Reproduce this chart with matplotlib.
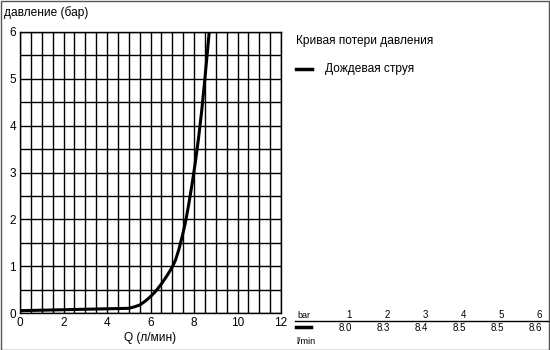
import matplotlib.pyplot as plt
from matplotlib.patches import Rectangle
import numpy as np

# curve
flow = [0, 1, 2, 3, 4, 5, 5.25, 5.5, 5.75, 6, 6.25, 6.5, 6.75, 7, 7.15, 7.3, 7.45, 7.6,
        7.75, 7.9, 8.05, 8.2, 8.35, 8.5, 8.6, 8.7]
pres = [0.05, 0.06, 0.07, 0.08, 0.09, 0.1, 0.13, 0.17, 0.25, 0.35, 0.47, 0.62, 0.79, 0.98,
        1.13, 1.35, 1.62, 1.92, 2.3, 2.72, 3.18, 3.7, 4.3, 5.0, 5.5, 6.0]

tab_bar = ['1', '2', '3', '4', '5', '6']
tab_flow = ['8.0', '8.3', '8.4', '8.5', '8.5', '8.6']

plt.rcParams['font.family'] = ['Liberation Sans', 'DejaVu Sans']

W, H = 550, 350
fig = plt.figure(figsize=(5.5, 3.5), dpi=100)
fig.patch.set_facecolor('white')

ax = fig.add_axes([20 / W, 1 - 313 / H, 261 / W, 281 / H])
ax.set_xlim(0, 12)
ax.set_ylim(0, 6)
ax.set_xticks(np.arange(0, 13, 2))
ax.set_yticks(np.arange(0, 7, 1))
ax.set_xticks(np.arange(0, 12.01, 0.5), minor=True)
ax.set_yticks(np.arange(0, 6.01, 0.5), minor=True)
ax.grid(True, which='both', color='black', linewidth=1.0)
ax.tick_params(which='both', length=0, labelsize=8.5, pad=3)
for s in ax.spines.values():
    s.set_color('black')
    s.set_linewidth(1.0)

ax.plot(flow, pres, color='black', linewidth=2.2, solid_joinstyle='round', zorder=5)

ax.set_xlabel('Q (л/мин)', fontsize=8.6, labelpad=2)
fig.text(4 / W, 1 - 13 / H, 'давление (бар)', fontsize=8.6, va='center', ha='left')

# legend area
fig.text(296 / W, 1 - 41 / H, 'Кривая потери давления', fontsize=8.6, va='center', ha='left')
fig.add_artist(plt.Line2D([296 / W, 312 / W], [1 - 69 / H, 1 - 69 / H], color='black', linewidth=2.5))
fig.text(325 / W, 1 - 69 / H, 'Дождевая струя', fontsize=8.6, va='center', ha='left')

# small table
fig.text(297 / W, 1 - 315 / H, 'bar', fontsize=6.5, va='center', ha='left')
fig.add_artist(plt.Line2D([295 / W, 548 / W], [1 - 321 / H, 1 - 321 / H], color='black', linewidth=1.0))
fig.add_artist(plt.Line2D([296 / W, 311 / W], [1 - 327 / H, 1 - 327 / H], color='black', linewidth=2.5))
fig.text(296 / W, 1 - 342 / H, 'l/min', fontsize=6.5, va='center', ha='left')
for i in range(len(tab_bar)):
    xr = (352 + 38 * i) / W
    fig.text(xr, 1 - 315 / H, tab_bar[i], fontsize=7, va='center', ha='right')
    fig.text(xr, 1 - 328 / H, tab_flow[i], fontsize=7, va='center', ha='right')

# outer frame
fig.add_artist(Rectangle((0.5 / W, 0.5 / H), 1 - 1.5 / W, 1 - 1.5 / H, transform=fig.transFigure,
                         fill=False, edgecolor='#555555', linewidth=1.0))

fig.savefig('out.png', dpi=100)
